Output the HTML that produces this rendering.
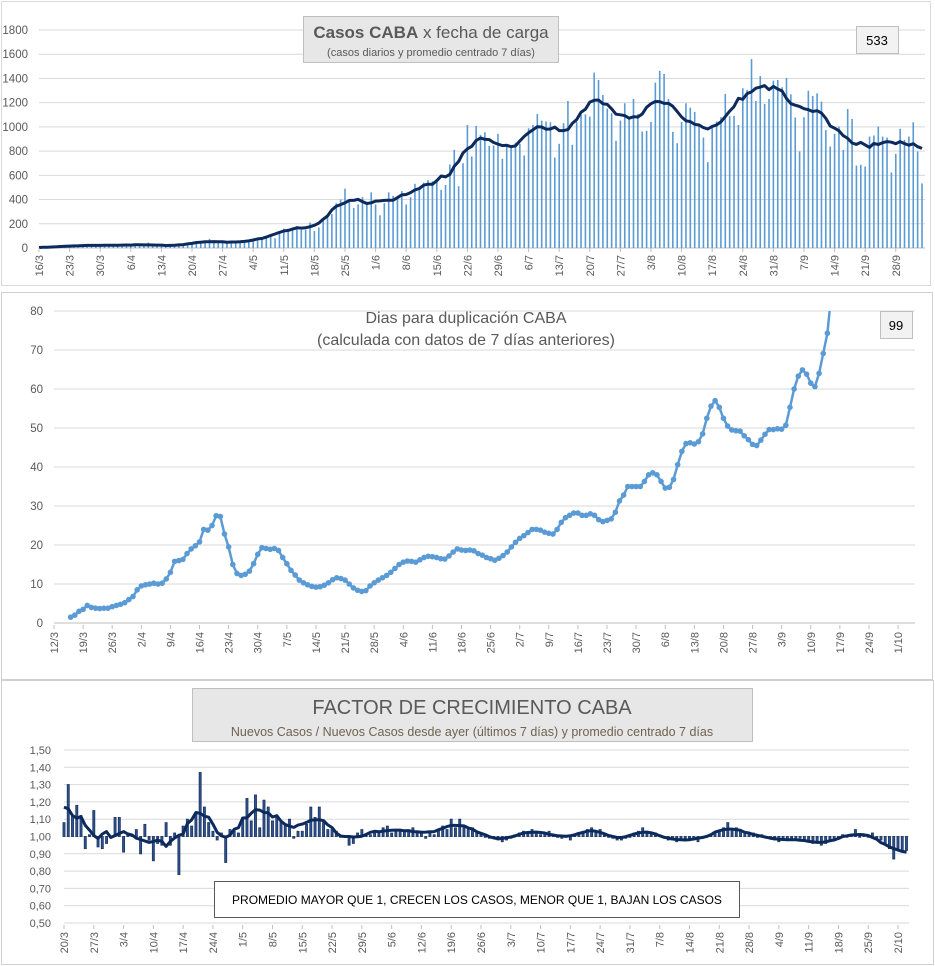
<!DOCTYPE html>
<html><head><meta charset="utf-8"><style>
body{margin:0;background:#fff;}
svg{display:block;font-family:"Liberation Sans",sans-serif;}
</style></head><body>
<svg id="s" width="935" height="966" viewBox="0 0 935 966" xmlns="http://www.w3.org/2000/svg">
<rect x="0" y="0" width="935" height="966" fill="#fff"/>
<g>
<rect x="1.5" y="1.5" width="929" height="284" fill="#fff" stroke="#d9d9d9"/>
</g>
<g>
<rect x="1.5" y="292.5" width="931" height="387" fill="#fff" stroke="#d0d0d0"/>
</g>
<g>
<rect x="1.5" y="680.5" width="932" height="284" fill="#fff" stroke="#d0d0d0"/>
</g>
<g id="c1"></g>
<g id="c2"></g>
<g id="c3"></g>

<g>
<rect x="303.5" y="16.5" width="255" height="46" fill="#e7e7e7" stroke="#bfbfbf"/>
<text x="431" y="38" text-anchor="middle" font-size="17" fill="#595959"><tspan font-weight="bold">Casos  CABA</tspan> x fecha  de carga</text>
<text x="431" y="56" text-anchor="middle" font-size="11" fill="#595959">(casos diarios y promedio centrado 7 días)</text>
</g>
<g>
<rect x="856.5" y="26.5" width="42" height="27" fill="#f2f2f2" stroke="#bfbfbf"/>
<text x="877" y="45" text-anchor="middle" font-size="13" fill="#000">533</text>
</g>

<text x="466" y="323" text-anchor="middle" font-size="16" fill="#595959">Dias para duplicación CABA</text>
<text x="466" y="345" text-anchor="middle" font-size="16" fill="#595959">(calculada con datos de 7 días anteriores)</text>
<g>
<rect x="880.5" y="311.5" width="32" height="27" fill="#f2f2f2" stroke="#bfbfbf"/>
<text x="896" y="330" text-anchor="middle" font-size="13" fill="#000">99</text>
</g>

<g>
<rect x="192.5" y="688.5" width="560" height="53" fill="#e7e7e7" stroke="#bfbfbf"/>
<text x="472" y="714" text-anchor="middle" font-size="20" fill="#595959">FACTOR DE CRECIMIENTO CABA</text>
<text x="472" y="736" text-anchor="middle" font-size="12.5" fill="#6f6250">Nuevos Casos  / Nuevos Casos desde ayer (últimos 7 días) y promedio  centrado 7 días</text>
</g>
<g>
<rect x="214.5" y="881.5" width="525" height="36" fill="#fff" stroke="#595959"/>
<text x="477" y="904" text-anchor="middle" font-size="12" fill="#000">PROMEDIO MAYOR QUE 1, CRECEN LOS CASOS, MENOR QUE 1, BAJAN LOS CASOS</text>
</g>
</svg>
<script>
// ===== Chart 1 data: daily cases from 16/3 =====
const casesStart = [2020, 2, 16];
const casesDaily = [2,3,5,8,10,12,15, 18,20,15,22,18,20,25, 30,20,18,22,25,20,28, 25,30,22,20,45,18,22, 20,25,18,22,20,25,28, 40,45,55,50,75,45,50, 45,50,48,52,45,55,50, 60,
70,80,100,110,80,130,160,150,170,180,150,150,210,140,170,230,260,280,370,400,490,380,330,360,420,370,460,360,270,370,460,430,400,470,360,420,530,480,540,560,550,550,480,520,690,810,510,
700,1016,755,1008,934,956,843,846,942,736,838,846,870,860,764,989,1016,1107,1052,1044,1038,747,860,1030,1214,852,1044,1099,1104,1085,1448,1387,1264,1151,1113,885,1052,1195,1071,1231,1107,962,967,1041,1365,1462,1437,1231,959,865,1041,1195,1159,1124,1008,912,709,1003,1044,1080,1272,1088,1091,1016,1319,1305,1560,1214,1420,1190,1231,1382,1387,1327,1404,1269,1077,797,1080,1299,1255,1277,1209,975,838,942,1003,810,1148,1066,681,687,673,920,929,1003,920,912,624,777,984,893,920,1038,797,533];
const casesTicks = [0,200,400,600,800,1000,1200,1400,1600,1800];

// ===== Chart 2 data: doubling days, from 16/3 (axis starts 12/3) =====
const dblAxisStart = [2020, 2, 12];
const dblFirstDay = 4;
const dblValues = [1.5,2,3,3.5,4.5,4,3.8,3.7,3.8,3.8,4.2,4.5,4.8,5.2,6,6.8,8.5,9.5,9.8,10,10.2,10,10.2,11.3,13,15.8,16,16.3,17.8,19,19.8,20.8,24,23.8,25,27.5,27.3,22.8,19.5,15,12.7,12.2,12.5,13.3,15.2,17.6,19.3,19.1,18.9,19.1,18.6,16.8,15.2,13.5,12.3,11,10.3,9.8,9.4,9.2,9.3,9.7,10.3,11.1,11.6,11.4,11,10,9,8.4,8.1,8.3,9.5,10.3,11,11.6,12.2,13,14,15,15.6,15.9,15.8,15.6,16.2,16.8,17.1,17,16.8,16.5,16.4,17.2,18.2,19,18.7,
18.6,18.7,18.5,17.8,17.4,16.8,16.5,16.1,16.6,17.3,18.2,19.5,20.7,21.7,22.4,23.2,24,24,23.8,23.3,23,22.8,24,25.8,27,27.6,28.2,28.2,27.6,27.6,28,27.6,26.5,26,26.3,26.7,28.4,31.3,32.8,35,35,35,35,36.3,38,38.5,38,36.3,34.6,34.8,36.8,40.6,44,46,46.2,45.9,46.5,48.5,52.5,55.6,57,55.3,52.5,50.5,49.5,49.3,49.2,48,47,45.8,45.5,46.9,48.4,49.6,49.6,49.8,49.7,50.7,55.3,60,63.3,64.9,63.8,61.5,60.6,64,69.1,74.3,85];
const dblTicks = [0,10,20,30,40,50,60,70,80];

// ===== Chart 3 data: growth factor from 20/3 =====
const gfStart = [2020, 2, 20];
const gfValues = [1.08,1.30,1.12,1.18,1.12,0.93,1.01,1.15,0.94,0.93,0.96,
1.00,1.11,1.11,0.91,1.02,1.01,1.04,0.90,1.07,0.98,0.86,0.96,0.95,1.08,0.95,1.02,0.78,1.06,1.10,1.06,1.13,1.37,1.17,1.08,1.03,0.98,1.02,0.85,1.04,1.03,1.02,1.11,1.22,1.09,1.24,1.05,1.21,1.17,1.09,1.12,1.08,1.07,1.10,0.99,1.03,1.03,1.07,1.17,1.11,1.17,1.08,1.04,1.04,1.03,1.00,1.00,0.95,0.96,1.02,1.04,1.01,1.01,1.02,1.02,1.05,1.06,1.02,1.04,1.03,1.03,1.03,1.05,1.03,1.03,0.99,1.03,1.01,1.04,1.06,1.04,1.10,1.05,1.10,
1.06,1.04,1.05,1.03,1.02,1.00,0.99,1.00,0.98,0.97,0.98,0.99,1.01,1.02,1.03,1.02,1.04,1.03,1.01,1.02,1.03,1.01,1.00,0.99,1.00,0.98,1.01,1.02,1.03,1.04,1.05,1.03,1.04,1.02,1.00,0.99,0.98,0.98,0.99,1.00,1.02,1.03,1.05,1.03,1.02,1.02,1.01,0.99,0.98,0.98,0.97,0.98,0.99,0.99,0.98,0.97,0.99,1.00,1.01,1.02,1.03,1.05,1.08,1.04,1.05,1.03,1.02,1.01,1.02,1.00,1.01,0.99,1.00,0.98,0.97,0.98,0.98,0.99,0.98,0.99,0.98,0.97,0.96,0.97,0.95,0.96,0.97,0.98,0.99,1.01,1.00,1.01,1.04,1.00,1.01,1.00,1.02,0.99,0.98,0.96,0.93,0.87,0.93,0.92,0.92];
const gfTicks = [0.5,0.6,0.7,0.8,0.9,1.0,1.1,1.2,1.3,1.4,1.5];

const NS = "http://www.w3.org/2000/svg";
function mk(parent, tag, attrs) {
  const e = document.createElementNS(NS, tag);
  for (const k in attrs) e.setAttribute(k, attrs[k]);
  parent.appendChild(e);
  return e;
}
function centered(v) {
  const out = [];
  for (let i = 0; i < v.length; i++) {
    let s = 0, n = 0;
    for (let j = i - 3; j <= i + 3; j++) if (j >= 0 && j < v.length) { s += v[j]; n++; }
    out.push(s / n);
  }
  return out;
}
function dateLabel(start, d) {
  const dt = new Date(start[0], start[1], start[2] + d);
  return dt.getDate() + "/" + (dt.getMonth() + 1);
}
function xLabels(g, start, nDays, xf, yTop, size, nameBase) {
  for (let d = 0; d <= nDays; d += 7) {
    const x = xf(d);
    const tk = mk(g, "line", {x1: x, x2: x, y1: yTop - 4, y2: yTop, stroke: "#bfbfbf"});
    
    
    const t = mk(g, "text", {x: 0, y: 0, transform: "translate(" + (x + 4) + "," + (yTop + 3) + ") rotate(-90)", "text-anchor": "end", "font-size": size, fill: "#595959"});
    t.textContent = dateLabel(start, d);
    
    
  }
}

// ---------- Chart 1 ----------
(function () {
  const g = document.getElementById("c1");
  const L = 39, R = 925, Y0 = 248, Y1 = 30;
  const n = casesDaily.length;
  const xs = d => L + d * (922 - L) / (n - 1);
  const ys = v => Y0 - v * (Y0 - Y1) / 1800;
  casesTicks.forEach(t => {
    const ln = mk(g, "line", {x1: L, x2: R, y1: ys(t), y2: ys(t), stroke: t === 0 ? "#bfbfbf" : "#d9d9d9"});
    
    
    const tx = mk(g, "text", {x: 28, y: ys(t) + 4, "text-anchor": "end", "font-size": 11.5, fill: "#595959"});
    tx.textContent = t;
    
    
  });
  casesDaily.forEach((v, i) => {
    const r = mk(g, "rect", {x: xs(i) - 0.8, y: ys(v), width: 1.6, height: Y0 - ys(v), fill: "#5b9bd5"});
    
    
  });
  const avg = centered(casesDaily);
  const p = mk(g, "polyline", {points: avg.map((v, i) => xs(i).toFixed(1) + "," + ys(v).toFixed(1)).join(" "), fill: "none", stroke: "#0d2a5c", "stroke-width": 3, "stroke-linejoin": "round"});
  
  
  xLabels(g, casesStart, n - 1, xs, Y0 + 4, 11, 'cases');
})();

// ---------- Chart 2 ----------
(function () {
  const g = document.getElementById("c2");
  const L = 54, R = 915, Y0 = 623, Y1 = 311;
  const xs = d => L + d * 4.158;
  const ys = v => Y0 - v * (Y0 - Y1) / 80;
  dblTicks.forEach(t => {
    const ln = mk(g, "line", {x1: L, x2: R, y1: ys(t), y2: ys(t), stroke: t === 0 ? "#bfbfbf" : "#d9d9d9"});
    
    
    const tx = mk(g, "text", {x: 43, y: ys(t) + 4, "text-anchor": "end", "font-size": 11.5, fill: "#595959"});
    tx.textContent = t;
    
    
  });
  const defs = mk(g, "defs", {});
  const cp = mk(defs, "clipPath", {id: "clip2"});
  mk(cp, "rect", {x: L, y: Y1, width: R - L, height: Y0 - Y1 + 5});
  const pg = mk(g, "g", {"clip-path": "url(#clip2)"});
  const pts = dblValues.map((v, i) => [xs(dblFirstDay + i), ys(v)]);
  const p = mk(pg, "polyline", {points: pts.map(q => q[0].toFixed(1) + "," + q[1].toFixed(1)).join(" "), fill: "none", stroke: "#5b9bd5", "stroke-width": 2.5, "stroke-linejoin": "round"});
  
  
  pts.forEach(q => {
    const c = mk(pg, "circle", {cx: q[0], cy: q[1], r: 2.8, fill: "#5b9bd5"});
    
    
  });
  xLabels(g, dblAxisStart, 203, xs, Y0 + 6, 11, 'doubling');
})();

// ---------- Chart 3 ----------
(function () {
  const g = document.getElementById("c3");
  const L = 64, R = 909, Y0 = 923, Y1 = 750;
  const xs = d => L + d * 4.255;
  const ys = v => Y0 - (v - 0.5) * (Y0 - Y1) / 1.0;
  gfTicks.forEach(t => {
    const ln = mk(g, "line", {x1: L, x2: R, y1: ys(t), y2: ys(t), stroke: "#d9d9d9"});
    
    
    const tx = mk(g, "text", {x: 51, y: ys(t) + 4, "text-anchor": "end", "font-size": 11, fill: "#595959"});
    tx.textContent = t.toFixed(2).replace(".", ",");
    
    
  });
  const base = ys(1.0);
  gfValues.forEach((v, i) => {
    const top = Math.min(base, ys(v)), h = Math.max(Math.abs(base - ys(v)), 0.8);
    const r = mk(g, "rect", {x: xs(i) - 1, y: top, width: 2, height: h, fill: "#2f5597", stroke: "#1f3864", "stroke-width": 0.9});
    
    
  });
  const avg = centered(gfValues);
  const p = mk(g, "polyline", {points: avg.map((v, i) => xs(i).toFixed(1) + "," + ys(v).toFixed(1)).join(" "), fill: "none", stroke: "#0d2a5c", "stroke-width": 3, "stroke-linejoin": "round"});
  
  
  xLabels(g, gfStart, gfValues.length - 1, xs, Y0 + 6, 11, 'growth');
})();
</script>
</body></html>
